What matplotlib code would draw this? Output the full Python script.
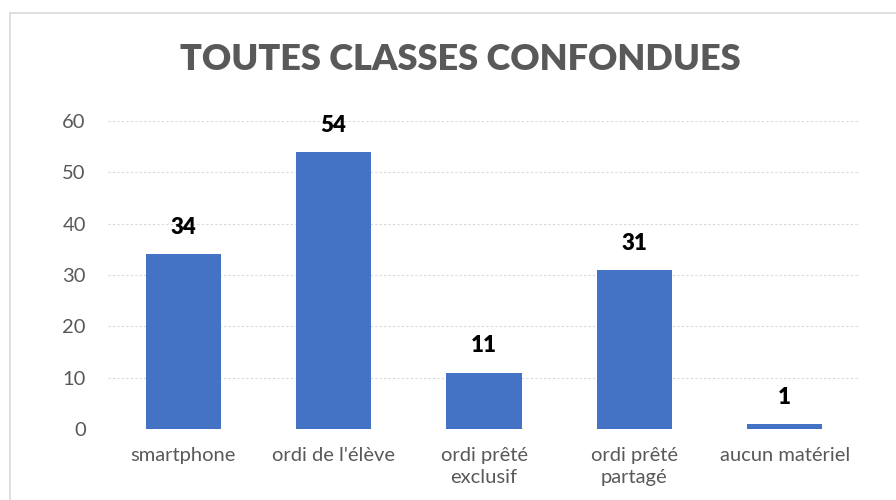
import matplotlib.pyplot as plt
from matplotlib.patches import Rectangle

categories = ["smartphone", "ordi de l'élève", "ordi prêté\nexclusif", "ordi prêté\npartagé", "aucun matériel"]
values = [34, 54, 11, 31, 1]
yticks = [0, 10, 20, 30, 40, 50, 60]

plt.rcParams['font.family'] = ['Lato', 'DejaVu Sans']

fig = plt.figure(figsize=(8.96, 5.0), dpi=100)
ax = fig.add_axes([108 / 896, 1 - 429 / 500, 752 / 896, 308 / 500])

# chart border
fig.patches.append(Rectangle((10 / 896, -0.1), 1.0, 1 - 13 / 500 + 0.1, transform=fig.transFigure,
                             fill=False, edgecolor='#d9d9d9', linewidth=1.2))

x = range(len(categories))
bars = ax.bar(x, values, width=0.5, color='#4472C4', zorder=3)
for xi, v in zip(x, values):
    ax.text(xi, v + 5.2, str(v), ha='center', va='center', fontsize=16, fontweight='heavy', color='black')

ax.set_xlim(-0.5, len(categories) - 0.5)
ax.set_ylim(0, 60)
ax.set_yticks(yticks)
ax.set_xticks(list(x))
ax.set_xticklabels(categories, linespacing=1.35)
ax.grid(axis='y', color='#d9d9d9', linestyle=(0, (2, 2)), linewidth=0.8, zorder=0)
for s in ax.spines.values():
    s.set_visible(False)
ax.tick_params(axis='both', length=0, colors='#595959', labelsize=14.5)
ax.tick_params(axis='y', pad=16)
ax.tick_params(axis='x', pad=13)

fig.text(460 / 896, 1 - 60 / 500, "TOUTES CLASSES CONFONDUES", ha='center', va='center',
         fontsize=26, fontweight='heavy', color='#595959')

fig.savefig('out.png', dpi=100)
